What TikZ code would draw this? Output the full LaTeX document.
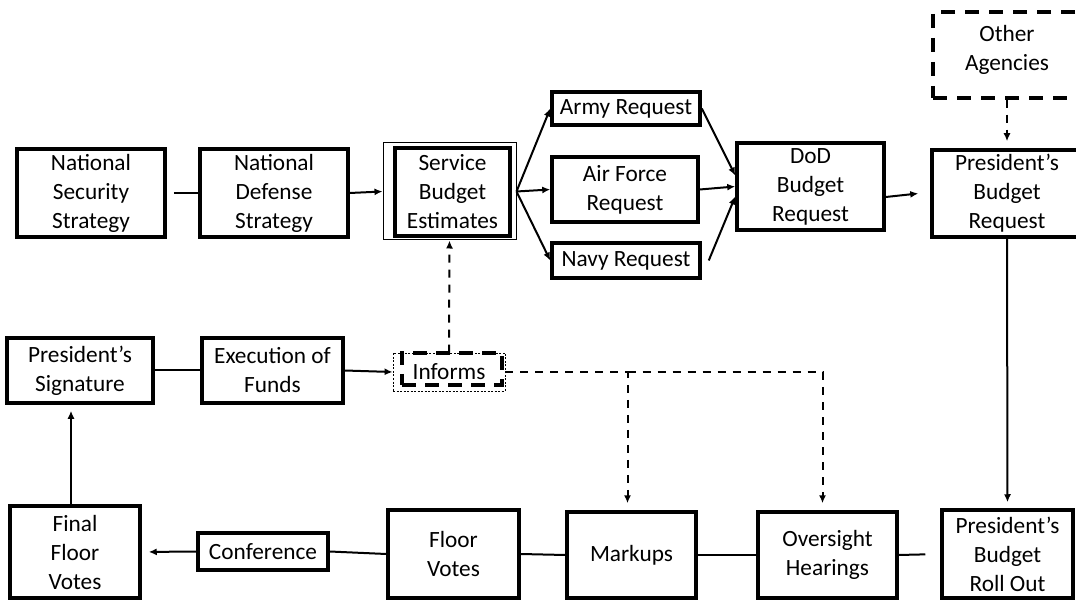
\documentclass[tikz,border=0pt]{standalone}
\usepackage{fontspec}
\setmainfont{Carlito}
\usetikzlibrary{arrows.meta}
\tikzset{
  stage/.style={draw, line width=3.5pt, align=center, inner sep=0pt, font=\fontsize{23.3}{29}\selectfont},
  flow/.style={line width=2pt},
  hint/.style={line width=2pt, dash pattern=on 8pt off 7pt},
}
\begin{document}
\begin{tikzpicture}[x=1pt, y=-1pt, >={Latex[length=8pt,width=7pt]}]
    \useasboundingbox (0,0) rectangle (1076,601);
    % planning row
    \node[stage, minimum width=148pt, minimum height=88pt] (nss) at (91,193) {National\\Security\\Strategy};
    \node[stage, minimum width=148pt, minimum height=88pt] (nds) at (274,193) {National\\Defense\\Strategy};
    \node[draw, line width=1pt, minimum width=133pt, minimum height=97pt] (sbeo) at (449.5,191.5) {};
    \node[stage, minimum width=115pt, minimum height=88pt] (sbe) at (452.5,192) {Service\\Budget\\Estimates};
    \node[stage, minimum width=148pt, minimum height=33pt] (army) at (626,108.5) {Army Request};
    \node[stage, minimum width=146pt, minimum height=65pt] (air) at (625,189.5) {Air Force\\Request};
    \node[stage, minimum width=148pt, minimum height=35pt] (navy) at (626,260.5) {Navy Request};
    \node[stage, minimum width=147pt, minimum height=87pt] (dod) at (810.5,186.5) {DoD\\Budget\\Request};
    \node[stage, minimum width=150pt, minimum height=87pt] (pbr) at (1007,193.5) {President’s\\Budget\\Request};
    \node[stage, dash pattern=on 14pt off 10pt, text depth=14pt, minimum width=148pt, minimum height=86pt] (other) at (1007,55) {Other\\Agencies};
    % execution row
    \node[stage, minimum width=146pt, minimum height=65pt] (ps) at (80,370.5) {President’s\\Signature};
    \node[stage, minimum width=141pt, minimum height=65pt] (eof) at (272.5,370.5) {Execution of\\Funds};
    \node[draw, line width=0.8pt, dash pattern=on 2pt off 1.5pt, minimum width=112pt, minimum height=38pt, font=\fontsize{23.3}{29}\selectfont] (info) at (449,372) {Informs};
    \node[draw, line width=4pt, dash pattern=on 14pt off 9pt, minimum width=100pt, minimum height=32pt] (infi) at (452,369) {};
    % congress row
    \node[stage, minimum width=130pt, minimum height=92pt] (ffv) at (75,552) {Final\\Floor\\Votes};
    \node[stage, minimum width=130pt, minimum height=37pt] (conf) at (263,551.5) {Conference};
    \node[stage, minimum width=131pt, minimum height=88pt] (fv) at (453.5,554) {Floor\\Votes};
    \node[stage, minimum width=129pt, minimum height=86pt] (mk) at (631.5,555) {Markups};
    \node[stage, minimum width=139pt, minimum height=86pt] (ov) at (827.5,555) {Oversight\\Hearings};
    \node[stage, minimum width=131pt, minimum height=88pt] (ro) at (1007.5,554) {President’s\\Budget\\Roll Out};

    \draw[flow, shorten <=7pt] (nss.east) -- (nds.west);
    \draw[flow, ->] (nds.east) -- (sbeo.west);
    \draw[flow, ->] (sbeo.east) -- (army.west);
    \draw[flow, ->] (sbeo.east) -- (air.west);
    \draw[flow, ->] (sbeo.east) -- (navy.west);
    \draw[flow, ->] (army.east) -- ([yshift=11pt]dod.west);
    \draw[flow, ->] (air.east) -- (dod.west);
    \draw[flow, ->] ([xshift=7pt]navy.east) -- ([yshift=-10pt]dod.west);
    \draw[flow, ->] ([yshift=-10.5pt]dod.east) -- ([xshift=-12pt]pbr.west);
    \draw[hint, ->, shorten >=7pt] (other.south) -- (pbr.north);
    \draw[flow, ->, shorten >=6pt] (pbr.south) -- (ro.north);
    \draw[hint, ->] (info.north) -- (sbeo.south);
    \draw[flow] (ps.east) -- (eof.west);
    \draw[flow, ->] (eof.east) -- (info.west);
    \draw[hint, ->, shorten >=7pt] (info.east) -| ([xshift=-4pt]mk.north);
    \draw[hint, ->, shorten >=7pt] ([xshift=-4pt]mk.north |- info.east) -| ([xshift=-5pt]ov.north);
    \draw[flow, ->, shorten >=6pt] ([xshift=-4pt]ffv.north) -- ([xshift=-4pt]ffv.north |- ps.south);
    \draw[flow, ->, shorten >=7pt] (conf.west) -- (ffv.east);
    \draw[flow] (conf.east) -- (fv.west);
    \draw[flow] (fv.east) -- (mk.west);
    \draw[flow] (mk.east) -- (ov.west);
    \draw[flow, shorten >=15pt] (ov.east) -- (ro.west);
\end{tikzpicture}
\end{document}
